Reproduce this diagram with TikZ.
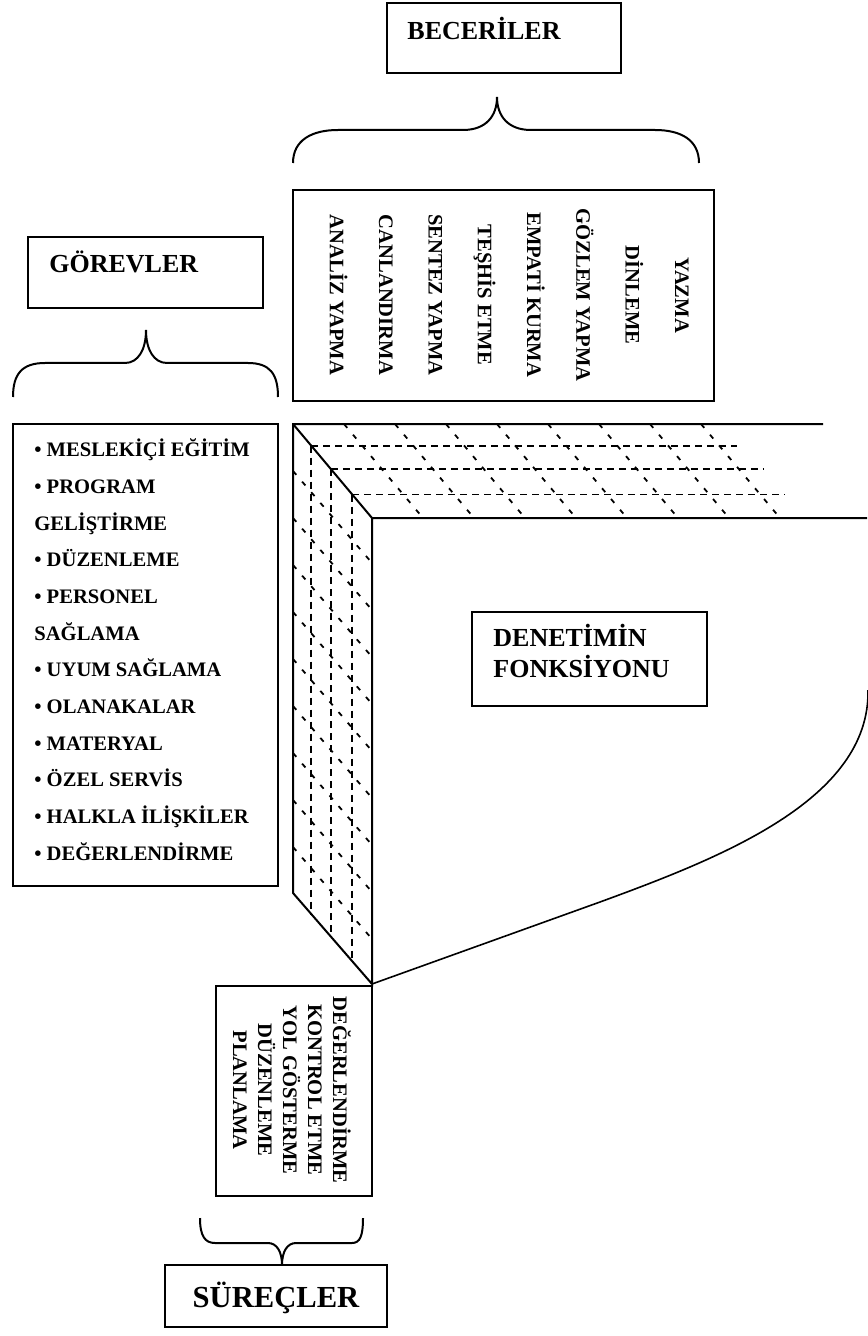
\documentclass[tikz,border=0pt]{standalone}
\usepackage{fontspec}
\setmainfont{Liberation Serif}
\begin{document}
\begin{tikzpicture}[x=0.5pt, y=-0.5pt, line join=miter,
  box/.style={draw, line width=1pt, inner sep=0pt, outer sep=0pt, anchor=north west},
  ttl/.style={font=\bfseries\fontsize{13}{15.5}\selectfont, inner sep=0pt, anchor=base west},
  item/.style={font=\bfseries\fontsize{10.3}{12}\selectfont, inner sep=0pt, anchor=base west},
  vert/.style={font=\bfseries\fontsize{10.3}{12}\selectfont, inner sep=0pt, rotate=-90, anchor=base},
  solidline/.style={line width=1pt},
  thinline/.style={line width=0.8pt},
  gridline/.style={line width=0.9pt, dash pattern=on 3.5pt off 2.5pt},
  hatchline/.style={line width=0.9pt, dash pattern=on 2.5pt off 4.5pt},
  bracepath/.style={line width=1pt},
]
\useasboundingbox (0,0) rectangle (867,1336);

% ---- skills (top) ----
\node[box, minimum width=117pt, minimum height=35pt] (bec) at (387,3) {};
\node[ttl] (becT) at (407,40) {BECERİLER};
\draw[bracepath] (293,163) .. controls (293,140) and (312,130) .. (338,130) -- (463,130)
  .. controls (486,130) and (497,116) .. (497,97)
  .. controls (497,116) and (508,130) .. (531,130) -- (655,130)
  .. controls (681,130) and (699,140) .. (699,163);
\node[box, minimum width=210.5pt, minimum height=105.5pt] (skills) at (293,190) {};
\foreach \t [count=\i from 0] in {YAZMA, DİNLEME, GÖZLEM YAPMA, EMPATİ KURMA, TEŞHİS ETME, SENTEZ YAPMA, CANLANDIRMA, ANALİZ YAPMA}
  \node[vert] (sk\i) at (675-49.3*\i, 295) {\t};

% ---- tasks (left) ----
\node[box, minimum width=117.5pt, minimum height=35.5pt] (gor) at (28,237) {};
\node[ttl] (gorT) at (49,273) {GÖREVLER};
\draw[bracepath] (13,397) .. controls (13,374) and (22,363) .. (45,363) -- (125,363)
  .. controls (138,363) and (146,350) .. (146,330)
  .. controls (146,350) and (154,363) .. (167,363) -- (248,363)
  .. controls (270,363) and (278,374) .. (278,397);
\node[box, minimum width=132.5pt, minimum height=231pt] (tasks) at (13,424) {};
\foreach \t [count=\i from 0] in {• MESLEKİÇİ EĞİTİM, • PROGRAM, GELİŞTİRME, • DÜZENLEME, • PERSONEL, SAĞLAMA, • UYUM SAĞLAMA, • OLANAKALAR, • MATERYAL, • ÖZEL SERVİS, • HALKLA İLİŞKİLER, • DEĞERLENDİRME}
  \node[item] (tk\i) at (34, 456.7+36.67*\i) {\t};

% ---- the block ----
\coordinate (A) at (293,424);
\coordinate (B) at (372,518);
\coordinate (C) at (293,893);
\coordinate (D) at (372,984);
\coordinate (topEnd) at (823,424);
\coordinate (innerEnd) at (867,518);
\coordinate (curveEnd) at (868,690);

% top face grid
\foreach \k in {1,...,8}
  \draw[hatchline] (293+51*\k,424) -- ++(79,94);
\foreach \f/\e in {0.23/737, 0.48/763, 0.75/785}
  \draw[gridline] (293+79*\f, 424+94*\f) -- (\e, 424+94*\f);
% side face grid
\foreach \f in {0.23, 0.48, 0.75}
  \draw[gridline] (293+79*\f, 424+94*\f) -- (293+79*\f, 893+91*\f);
\foreach \k in {1,...,9}
  \draw[hatchline] (293,424+47*\k) -- ++(79,92);

\draw[solidline] (topEnd) -- (A) -- (C) -- (D) -- (B) -- (innerEnd);
\draw[solidline] (A) -- (B);
\draw[thinline] (D) -- (600,902) .. controls (720,858) and (870,800) .. (curveEnd);

\node[box, minimum width=117.5pt, minimum height=47pt] (den) at (472,612) {};
\node[ttl] (denA) at (493,646) {DENETİMİN};
\node[ttl] (denB) at (493,677) {FONKSİYONU};

% ---- processes (bottom) ----
\node[box, minimum width=78pt, minimum height=105pt] (proc) at (216,986) {};
\foreach \t [count=\i from 0] in {DEĞERLENDİRME, KONTROL ETME, YOL GÖSTERME, DÜZENLEME, PLANLAMA}
  \node[vert] (pr\i) at (333-25*\i, 1090) {\t};
\draw[bracepath] (200,1218) .. controls (200,1236) and (205,1243) .. (215,1243) -- (268,1243)
  .. controls (277,1243) and (282,1252) .. (282,1265)
  .. controls (282,1252) and (287,1243) .. (296,1243) -- (352,1243)
  .. controls (360,1243) and (363,1236) .. (363,1218);
\node[box, minimum width=111pt, minimum height=31pt] (sur) at (165,1265) {};
\node[font=\bfseries\fontsize{15.3}{18}\selectfont, inner sep=0pt, anchor=base] (surT) at (276,1307) {SÜREÇLER};
\end{tikzpicture}
\end{document}
